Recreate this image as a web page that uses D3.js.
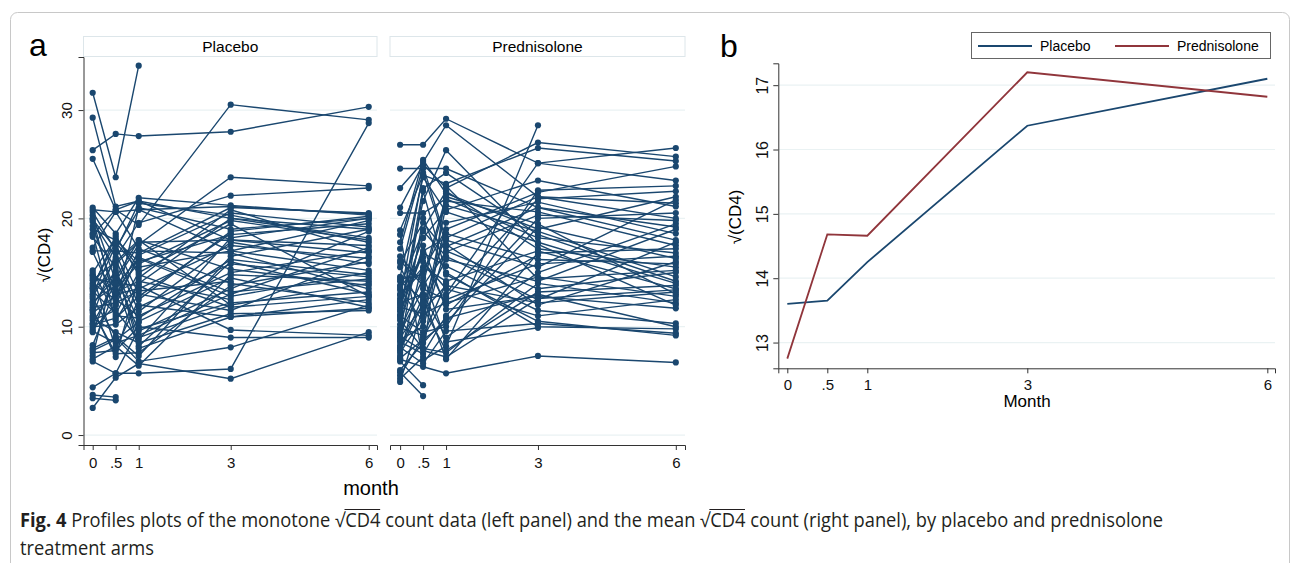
<!DOCTYPE html>
<html>
<head>
<meta charset="utf-8">
<script src="https://cdn.jsdelivr.net/npm/d3@7"></script>
<style>
body { margin: 0; background: #fff; }
#chart { position: relative; width: 1293px; height: 563px; overflow: hidden; }
#chart svg { position: absolute; left: 0; top: 0; }
.caption { position: absolute; left: 20px; font-family: "Open Sans", sans-serif; font-size: 19.5px; color: #231f20; white-space: nowrap; transform-origin: 0 0; line-height: 22px; }
.ov { position: relative; }
.ov::before { content: ""; position: absolute; left: -1px; right: 0; top: 3px; border-top: 1px solid #231f20; }
</style>
</head>
<body>
<div id="chart"></div>
<script>
// visit months and their tick labels
const months = [0, 0.5, 1, 3, 6];
const monthLabels = ["0", ".5", "1", "3", "6"];
const yTicksA = [0, 10, 20, 30];
const yTicksB = [13, 14, 15, 16, 17];

// sqrt(CD4) per subject at months 0, .5, 1, 3, 6 (null = dropped out)
const placeboProfiles = [
    [31.6, 23.8, 34.1, null, null],
    [29.3, 21.1, 21.6, 18.0, 17.5],
    [26.3, 27.8, 27.6, 28.0, 30.3],
    [25.5, 20.8, 19.4, 30.5, 29.1],
    [21.0, 18.6, 21.9, 21.2, 20.3],
    [20.6, 17.0, 21.4, 20.3, 17.8],
    [20.3, 14.2, 17.6, 23.8, 23.0],
    [20.0, 12.0, 21.0, 19.0, 20.0],
    [19.7, 16.4, 19.6, 22.1, 22.8],
    [19.3, 13.0, 13.5, 17.5, 16.3],
    [19.0, 18.0, 16.0, 18.5, 19.5],
    [18.6, 10.6, 14.0, 20.0, 18.2],
    [18.3, 15.5, 8.2, 16.0, 13.0],
    [17.3, 20.6, 17.2, 14.0, 12.2],
    [17.0, 17.0, 16.8, 21.0, 20.5],
    [15.0, 18.2, 15.5, 17.0, 15.2],
    [14.7, 8.0, 12.5, 18.8, 20.2],
    [14.3, 16.0, 18.0, 12.0, 14.0],
    [14.0, 12.5, 11.0, 15.0, 17.0],
    [13.6, 14.8, 9.6, 13.5, 18.8],
    [13.3, 11.2, 15.0, 19.5, 12.8],
    [13.0, 17.5, 13.0, 11.5, 16.5],
    [12.6, 9.1, 7.3, 16.5, 19.0],
    [12.3, 13.8, 16.3, 12.8, 15.0],
    [12.0, 15.2, 10.5, 14.5, 11.8],
    [11.6, 7.2, 14.5, 20.8, 17.0],
    [11.3, 12.8, 17.0, 16.8, 13.5],
    [11.0, 16.8, 12.0, 10.9, 12.5],
    [10.6, 11.5, 8.8, 18.2, 20.0],
    [10.3, 14.0, 13.8, 9.7, 9.2],
    [10.0, 10.2, 11.8, 15.8, 14.6],
    [9.6, 8.5, 9.2, 13.0, 17.3],
    [8.3, 13.5, 15.8, 19.8, 18.0],
    [8.0, 9.0, 6.8, 8.1, 12.0],
    [7.6, 7.8, 10.0, 9.0, 9.0],
    [7.3, 15.8, 17.8, 18.0, 16.8],
    [7.0, 8.2, 6.4, 14.8, 14.2],
    [6.8, 5.7, 5.7, 6.1, 28.8],
    [4.4, 5.7, 9.8, 12.2, 13.2],
    [3.7, 3.5, null, null, null],
    [3.4, 3.2, null, null, null],
    [2.5, 5.3, 6.6, 5.2, 9.5],
    [14.8, 13.2, 14.2, 12.5, null],
    [13.8, 17.8, 15.2, null, null],
    [12.8, 16.2, 11.4, 17.8, 15.8],
    [11.8, 12.2, 13.3, 14.2, null],
    [10.8, 9.5, 8.5, 11.2, 11.5],
    [9.8, 12.0, 16.6, 20.5, 19.2],
    [15.2, 11.0, 10.8, 16.2, 14.8],
    [12.2, 14.5, 18.0, 15.3, 13.8],
    [20.8, 20.6, 20.8, 21.1, 20.4],
    [18.5, 20.8, 21.6, 20.0, 19.0],
    [19.9, 17.2, 20.8, 17.0, 19.8],
    [11.5, 7.5, 7.6, 13.8, 16.0],
    [10.2, 10.8, 12.8, 18.6, null],
    [13.5, 18.4, 14.8, 11.8, 12.8],
    [9.5, 15.0, 9.0, 12.0, null],
    [7.8, 8.8, 10.4, null, null],
    [16.9, 12.5, 16.4, 13.2, 14.4],
    [14.5, 14.0, 8.0, 10.9, 11.7]
];

const prednisoloneProfiles = [
    [26.8, 26.8, 29.2, 25.1, 26.5],
    [24.6, 24.6, 24.6, 21.0, 19.2],
    [22.8, 25.2, 28.6, 22.0, 20.0],
    [21.0, 25.0, 22.8, 27.0, 25.7],
    [20.5, 20.5, 21.8, 18.2, 16.8],
    [18.9, 24.0, 23.2, 26.5, 25.3],
    [18.5, 6.9, 8.2, 28.6, null],
    [17.8, 25.4, 22.3, 19.0, 22.0],
    [17.2, 24.8, 18.0, 15.5, 21.7],
    [16.5, 14.0, 21.6, 20.6, 17.5],
    [15.9, 19.6, 17.0, 13.5, 15.0],
    [14.6, 23.8, 20.6, 17.8, 14.0],
    [14.2, 12.5, 13.0, 25.1, 23.5],
    [13.8, 18.8, 16.5, 12.5, 17.8],
    [13.4, 10.5, 19.6, 21.5, 18.6],
    [13.0, 15.5, 14.2, 17.0, 13.5],
    [12.6, 24.2, 17.6, 12.0, 16.0],
    [12.2, 13.0, 9.0, 15.0, 19.5],
    [11.8, 11.2, 12.2, 14.6, 12.8],
    [11.4, 16.8, 15.6, 11.5, 10.3],
    [11.0, 9.5, 10.0, 22.6, 23.0],
    [10.6, 8.0, 7.6, 14.0, 12.2],
    [9.7, 14.5, 22.0, 19.5, 13.0],
    [9.3, 22.5, 15.0, 10.0, 9.8],
    [9.0, 12.0, 18.6, 16.2, 15.8],
    [8.6, 7.5, 11.0, 20.0, 20.5],
    [8.3, 20.0, 14.8, 10.5, 9.2],
    [8.0, 12.8, 7.0, 16.8, 17.2],
    [7.6, 10.8, 21.2, 18.8, 14.6],
    [7.3, 16.0, 13.5, 11.0, 12.5],
    [7.0, 6.3, 5.7, 7.3, 6.7],
    [6.8, 4.6, null, null, null],
    [5.8, 3.6, null, null, null],
    [5.5, 9.0, 12.8, 21.8, 22.5],
    [4.9, 11.8, 7.8, 13.2, 13.8],
    [12.4, 18.2, 20.8, 23.5, 21.1],
    [10.2, 17.5, 11.6, 12.8, 11.7],
    [14.4, 14.8, 8.6, 9.9, null],
    [9.5, 13.5, 12.5, 15.8, 16.5],
    [8.8, 10.0, 17.4, 21.0, 18.0],
    [6.0, 8.5, 10.8, 13.0, 10.0],
    [12.9, 15.2, 19.0, 22.4, 24.8],
    [11.1, 22.8, 24.2, 18.5, 14.2],
    [7.8, 12.2, 16.2, 14.2, 19.0],
    [15.5, 11.5, 13.8, 12.2, 13.2],
    [10.8, 19.0, 22.5, 17.2, 15.5],
    [8.1, 6.6, 9.6, 10.3, 9.4],
    [13.6, 16.4, 12.0, 16.6, null],
    [9.9, 9.2, 14.0, null, null],
    [16.1, 13.8, 16.9, 20.3, 19.8],
    [7.1, 8.8, 10.4, 19.2, 16.3],
    [5.2, 7.2, 23.0, 14.4, 15.2],
    [11.6, 21.6, 26.3, 17.6, 12.0],
    [12.0, 17.0, 18.2, 22.0, 21.4],
    [9.1, 7.8, 7.2, 12.6, 13.4]
];

// mean sqrt(CD4) by arm (panel b)
const meanPlacebo = [13.6, 13.65, 14.25, 16.37, 17.1];
const meanPrednisolone = [12.75, 14.68, 14.66, 17.2, 16.82];

const navy = "#1a476f";
const maroon = "#90353b";
const gridColor = "#eaf2f3";
const font = "'Liberation Sans', Arial, sans-serif";

let svg = d3.select("#chart")
    .append("svg")
    .attr("width", 1293)
    .attr("height", 563);

// outer figure frame
svg.append("rect")
    .attr("x", 10.5).attr("y", 12.5)
    .attr("width", 1279).attr("height", 620)
    .attr("rx", 7)
    .attr("fill", "none")
    .attr("stroke", "#c8c8c8");

// panel letters
svg.append("text").attr("x", 29).attr("y", 56)
    .style("font-family", font).style("font-size", "32px").text("a");
svg.append("text").attr("x", 720).attr("y", 57)
    .style("font-family", font).style("font-size", "32px").text("b");

// ---------- panel a ----------
let yA = d3.scaleLinear().domain([-0.92, 34.9]).range([445, 57]);

let panelsA = [
    {name: "Placebo", data: placeboProfiles, x: d3.scaleLinear().domain([-0.2, 6.18]).range([83.5, 377]), yAxis: true},
    {name: "Prednisolone", data: prednisoloneProfiles, x: d3.scaleLinear().domain([-0.22, 6.2]).range([390, 685]), yAxis: false}
];

panelsA.forEach(function(p) {
    let g = svg.append("g");
    let x0 = p.x.range()[0], x1 = p.x.range()[1];

    // header strip
    g.append("rect")
        .attr("x", x0).attr("y", 36.5)
        .attr("width", x1 - x0).attr("height", 20)
        .attr("fill", "#fff")
        .attr("stroke", "#dde6ea");
    g.append("text")
        .attr("x", (x0 + x1) / 2).attr("y", 52)
        .attr("text-anchor", "middle")
        .style("font-family", font).style("font-size", "15.5px")
        .text(p.name);

    // grid lines
    g.selectAll(".grid")
        .data(yTicksA)
        .enter().append("line")
        .attr("x1", x0).attr("x2", x1)
        .attr("y1", d => yA(d)).attr("y2", d => yA(d))
        .attr("stroke", gridColor).attr("stroke-width", 1.2);

    // x axis
    let xAxis = g.append("g")
        .attr("transform", "translate(0,445)")
        .call(d3.axisBottom(p.x).tickValues(months).tickFormat((d, i) => monthLabels[i]).tickSizeOuter(0).tickSize(5));
    xAxis.select(".domain").attr("stroke", "#333");
    xAxis.selectAll(".tick line").attr("stroke", "#333");
    xAxis.selectAll("text")
        .attr("y", 23).attr("dy", null)
        .attr("fill", "#111")
        .style("font-family", font).style("font-size", "15px");

    if (p.yAxis) {
        let yAxis = g.append("g")
            .attr("transform", "translate(" + x0 + ",0)")
            .call(d3.axisLeft(yA).tickValues(yTicksA).tickFormat(d3.format("d")).tickSizeOuter(0).tickSize(5));
        yAxis.select(".domain").attr("stroke", "#333");
        yAxis.selectAll(".tick line").attr("stroke", "#333");
        yAxis.selectAll("text")
            .attr("transform", "rotate(-90)")
            .attr("x", 0).attr("y", -11.5).attr("dy", null)
            .attr("text-anchor", "middle")
            .attr("fill", "#111")
            .style("font-family", font).style("font-size", "15px");
    }

    // one connected profile per subject
    let line = d3.line().x(d => p.x(d[0])).y(d => yA(d[1]));
    p.data.forEach(function(row) {
        let pts = months.map((m, i) => [m, row[i]]).filter(d => d[1] != null);
        g.append("path")
            .attr("d", line(pts))
            .attr("fill", "none")
            .attr("stroke", navy)
            .attr("stroke-width", 1.4);
        g.selectAll(null)
            .data(pts)
            .enter().append("circle")
            .attr("cx", d => p.x(d[0]))
            .attr("cy", d => yA(d[1]))
            .attr("r", 3.1)
            .attr("fill", navy);
    });
});

// axis titles for panel a
svg.append("text")
    .attr("transform", "translate(50,255) rotate(-90)")
    .attr("text-anchor", "middle")
    .style("font-family", font).style("font-size", "17px")
    .text("√(CD4)");
svg.append("text")
    .attr("x", 371).attr("y", 495)
    .attr("text-anchor", "middle")
    .style("font-family", font).style("font-size", "20px")
    .text("month");

// ---------- panel b ----------
let xB = d3.scaleLinear().domain([-0.1125, 6.096]).range([778.3, 1275]);
let yB = d3.scaleLinear().domain([12.6, 17.34]).range([368.3, 63.3]);

let gB = svg.append("g");

gB.selectAll(".grid")
    .data(yTicksB)
    .enter().append("line")
    .attr("x1", 778.3).attr("x2", 1275)
    .attr("y1", d => yB(d)).attr("y2", d => yB(d))
    .attr("stroke", gridColor).attr("stroke-width", 1.2);

let xAxisB = gB.append("g")
    .attr("transform", "translate(0,368.3)")
    .call(d3.axisBottom(xB).tickValues(months).tickFormat((d, i) => monthLabels[i]).tickSizeOuter(0).tickSize(5));
xAxisB.select(".domain").attr("stroke", "#333");
xAxisB.selectAll(".tick line").attr("stroke", "#333");
xAxisB.selectAll("text")
    .attr("y", 22).attr("dy", null)
    .attr("fill", "#111")
    .style("font-family", font).style("font-size", "15px");

let yAxisB = gB.append("g")
    .attr("transform", "translate(778.3,0)")
    .call(d3.axisLeft(yB).tickValues(yTicksB).tickFormat(d3.format("d")).tickSizeOuter(0).tickSize(5));
yAxisB.select(".domain").attr("stroke", "#333");
yAxisB.selectAll(".tick line").attr("stroke", "#333");
yAxisB.selectAll("text")
    .attr("transform", "rotate(-90)")
    .attr("x", 0).attr("y", -10.5).attr("dy", null)
    .attr("text-anchor", "middle")
    .attr("fill", "#111")
    .style("font-family", font).style("font-size", "16px");

const meanLine = d3.line()
    .x((d, i) => xB(months[i]))
    .y(d => yB(d));

gB.append("path")
    .datum(meanPlacebo)
    .attr("d", meanLine)
    .attr("fill", "none")
    .attr("stroke", navy)
    .attr("stroke-width", 1.8);

gB.append("path")
    .datum(meanPrednisolone)
    .attr("d", meanLine)
    .attr("fill", "none")
    .attr("stroke", maroon)
    .attr("stroke-width", 1.8);

gB.append("text")
    .attr("transform", "translate(741,217) rotate(-90)")
    .attr("text-anchor", "middle")
    .style("font-family", font).style("font-size", "17px")
    .text("√(CD4)");
gB.append("text")
    .attr("x", 1027).attr("y", 407)
    .attr("text-anchor", "middle")
    .style("font-family", font).style("font-size", "17px")
    .text("Month");

// legend
let legend = gB.append("g");
legend.append("rect")
    .attr("x", 971.5).attr("y", 32.5)
    .attr("width", 299).attr("height", 26)
    .attr("fill", "#fff")
    .attr("stroke", "#666");
let legendItems = [
    {label: "Placebo", color: navy, x: 978},
    {label: "Prednisolone", color: maroon, x: 1115}
];
legendItems.forEach(function(d) {
    legend.append("line")
        .attr("x1", d.x).attr("x2", d.x + 54)
        .attr("y1", 46).attr("y2", 46)
        .attr("stroke", d.color).attr("stroke-width", 1.8);
    legend.append("text")
        .attr("x", d.x + 62).attr("y", 51)
        .style("font-family", font).style("font-size", "14px")
        .text(d.label);
});

// ---------- caption ----------
let chart = d3.select("#chart");
let cap1 = chart.append("div")
    .attr("class", "caption")
    .style("top", "509px")
    .html("<b>Fig. 4</b> Profiles plots of the monotone √<span class='ov'>CD4</span> count data (left panel) and the mean √<span class='ov'>CD4</span> count (right panel), by placebo and prednisolone");
let cap2 = chart.append("div")
    .attr("class", "caption")
    .style("top", "537px")
    .text("treatment arms");

// squeeze the caption to the width of the printed one
let scale = 1143 / cap1.node().getBoundingClientRect().width;
cap1.style("transform", "scaleX(" + scale + ")");
cap2.style("transform", "scaleX(" + scale + ")");
</script>
</body>
</html>
